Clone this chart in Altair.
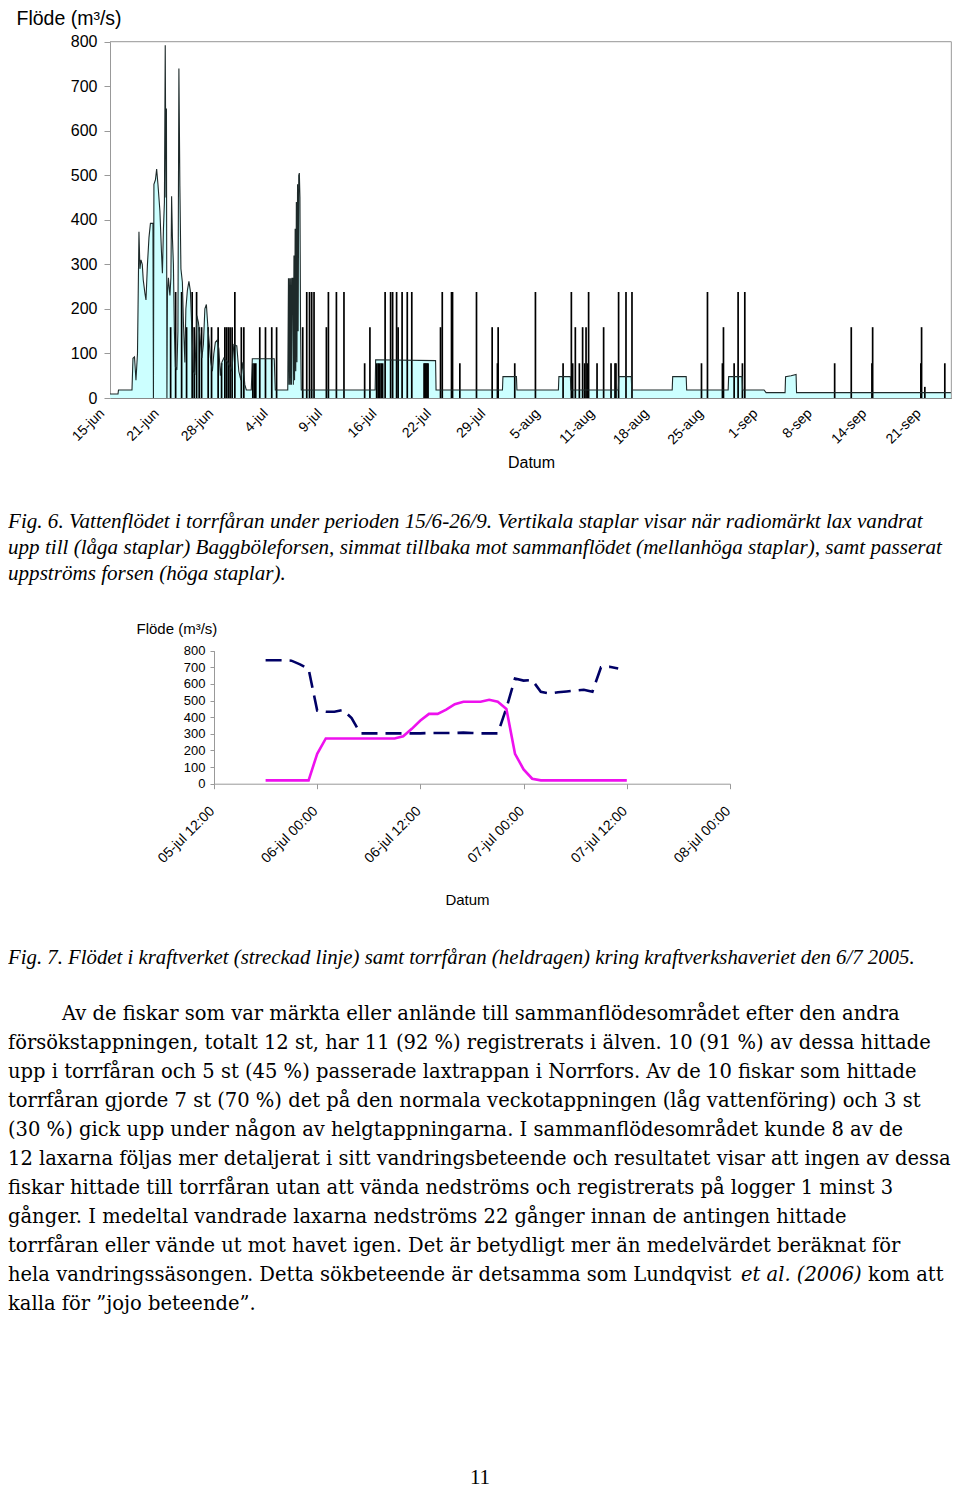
import altair as alt
import pandas as pd

# ---------------- Fig. 6 : flow in the dry channel, 15/6 - 26/9 ----------------
x_labels = ['15-jun', '21-jun', '28-jun', '4-jul', '9-jul', '16-jul', '22-jul', '29-jul',
            '5-aug', '11-aug', '18-aug', '25-aug', '1-sep', '8-sep', '14-sep', '21-sep']
x_max = 15.46

# position along the (category) time axis, in label steps, and flow in m3/s
flow_pos = [0.000, 0.147, 0.156, 0.404, 0.422, 0.450, 0.477, 0.505, 0.532, 0.550, 0.569, 0.593,
            0.611, 0.642, 0.661, 0.688, 0.716, 0.743, 0.789, 0.798, 0.807, 0.835, 0.857, 0.881,
            0.917, 0.945, 0.963, 0.982, 1.000, 1.015, 1.028, 1.037, 1.046, 1.055, 1.073, 1.101,
            1.119, 1.132, 1.147, 1.165, 1.183, 1.202, 1.229, 1.248, 1.266, 1.284, 1.303, 1.330,
            1.349, 1.376, 1.394, 1.422, 1.450, 1.477, 1.505, 1.532, 1.560, 1.596, 1.624, 1.651,
            1.688, 1.716, 1.743, 1.771, 1.798, 1.826, 1.853, 1.881, 1.908, 1.936, 1.972, 2.000,
            2.028, 2.055, 2.092, 2.165, 2.239, 2.275, 2.330, 2.367, 2.404, 2.440, 2.477, 2.505,
            2.596, 2.615, 3.018, 3.037, 3.266, 3.279, 3.290, 3.301, 3.312, 3.323, 3.334, 3.345,
            3.358, 3.369, 3.380, 3.391, 3.402, 3.413, 3.424, 3.435, 3.446, 3.457, 3.468, 3.479,
            3.490, 3.501, 3.514, 4.872, 4.881, 5.982, 5.991, 7.211, 7.220, 7.468, 7.477, 8.239,
            8.248, 8.459, 8.468, 9.339, 9.349, 9.578, 9.587, 10.330, 10.339, 10.587, 10.596,
            11.358, 11.367, 11.615, 11.624, 12.018, 12.055, 12.404, 12.413, 12.514, 12.606,
            12.615, 15.459]
flow_val = [9, 9, 18, 18, 89, 92, 40, 100, 373, 290, 310, 300,
            265, 235, 220, 300, 360, 392, 392, 0, 480, 490, 514, 480,
            420, 330, 280, 380, 440, 792, 450, 650, 0, 230, 270, 230,
            270, 453, 360, 300, 150, 70, 63, 150, 740, 475, 290, 260,
            170, 80, 200, 242, 262, 240, 150, 60, 55, 185, 170, 140,
            90, 120, 200, 210, 160, 120, 80, 60, 100, 125, 130, 110,
            50, 80, 90, 80, 60, 120, 117, 60, 40, 80, 30, 18,
            18, 88, 88, 18, 18, 269, 30, 269, 30, 269, 30, 269,
            269, 30, 320, 40, 380, 60, 440, 80, 480, 150, 500, 505,
            450, 160, 18, 18, 86, 84, 18, 18, 48, 48, 18, 18,
            48, 48, 18, 18, 48, 48, 18, 18, 48, 48, 18,
            18, 48, 48, 18, 18, 12, 12, 48, 50, 53,
            12, 12]

# vertical bars: radio-tagged salmon events (low / medium / high bars)
bar_pos = [1.114, 1.206, 1.316, 1.407, 1.510, 1.547, 1.591, 1.639, 1.683, 1.804, 1.866, 1.987,
           2.050, 2.110, 2.141, 2.174, 2.207, 2.244, 2.294, 2.413, 2.459, 2.624, 2.651, 2.679,
           2.752, 2.857, 2.972, 3.061, 3.541, 3.615, 3.666, 3.706, 3.749, 3.976, 4.013, 4.160,
           4.299, 4.679, 4.776, 4.899, 4.927, 4.954, 4.982, 5.009, 5.055, 5.156, 5.193, 5.266,
           5.294, 5.367, 5.462, 5.545, 5.771, 5.789, 5.807, 5.826, 5.844, 6.073, 6.105, 6.275,
           6.294, 6.428, 6.734, 7.022, 7.119, 7.132, 7.437, 7.817, 8.325, 8.477, 8.501, 8.550,
           8.624, 8.684, 8.721, 8.747, 8.771, 8.794, 8.949, 9.070, 9.206, 9.279, 9.297, 9.345,
           9.481, 9.591, 10.868, 10.978, 11.253, 11.272, 11.468, 11.541, 11.620, 11.664, 13.315,
           13.620, 14.000, 14.013, 14.899, 14.912, 14.972, 15.339]
bar_h = [159, 238, 238, 159, 238, 159, 238, 159, 159, 159, 159, 159,
         78, 159, 159, 159, 159, 159, 238, 159, 159, 78, 78, 78,
         159, 159, 159, 159, 159, 238, 238, 238, 238, 159, 238, 238,
         238, 78, 159, 78, 78, 78, 78, 78, 238, 238, 238, 238,
         159, 238, 238, 238, 78, 78, 78, 78, 78, 159, 238, 238,
         238, 78, 238, 159, 78, 159, 78, 238, 78, 238, 78, 159,
         78, 159, 78, 159, 78, 238, 78, 159, 78, 78, 78, 238,
         238, 238, 78, 238, 78, 159, 78, 238, 78, 238, 78,
         159, 78, 159, 78, 159, 25, 78]

# ---------------- Fig. 7 : flow around the power station failure 6/7 2005 ----------------
hour_labels = ['05-jul 12:00', '06-jul 00:00', '06-jul 12:00', '07-jul 00:00', '07-jul 12:00', '08-jul 00:00']
hour_ticks = [0, 12, 24, 36, 48, 60]
kraft_hours = [6, 7, 8, 9, 10, 11, 12, 13, 14, 15, 16, 17, 18, 19, 20, 21, 22, 23, 24, 25, 26,
               27, 28, 29, 30, 31, 32, 33, 34, 35, 36, 37, 38, 39, 40, 41, 42, 43, 44, 45, 46, 47]
kraft_flow = [743, 743, 743, 740, 718, 690, 440, 433, 433, 443, 395, 303, 303, 303, 303, 303, 303,
              303, 303, 305, 305, 305, 305, 307, 305, 303, 303, 303, 455, 633, 620, 623, 553, 543,
              550, 555, 560, 565, 553, 700, 703, 693]
torr_hours = [6, 7, 8, 9, 10, 11, 12, 13, 14, 15, 16, 17, 18, 19, 20, 21, 22, 23, 24, 25, 26, 27,
              28, 29, 30, 31, 32, 33, 34, 35, 36, 37, 38, 39, 40, 41, 42, 43, 44, 45, 46, 47, 48]
torr_flow = [20, 20, 20, 20, 20, 20, 180, 272, 272, 272, 272, 272, 272, 272, 272, 272, 285, 330,
             380, 420, 420, 445, 478, 493, 493, 493, 505, 493, 450, 180, 86, 30, 20, 20, 20, 20,
             20, 20, 20, 20, 20, 20, 20]

y_ticks = [0, 100, 200, 300, 400, 500, 600, 700, 800]

# ---------------- page text ----------------
caption6 = ['Fig. 6. Vattenflödet i torrfåran under perioden 15/6-26/9. Vertikala staplar visar när radiomärkt lax  vandrat',
            'upp till (låga  staplar) Baggböleforsen, simmat tillbaka mot sammanflödet (mellanhöga staplar), samt passerat',
            'uppströms forsen (höga staplar).']
caption7 = ['Fig. 7. Flödet i kraftverket (streckad linje) samt torrfåran (heldragen) kring kraftverkshaveriet den 6/7 2005.']
para_first = ['Av de fiskar som var märkta eller anlände till sammanflödesområdet efter den andra']
para_rest = ['försökstappningen, totalt 12 st, har 11 (92 %) registrerats i älven. 10 (91 %) av dessa hittade',
             'upp i torrfåran och 5 st (45 %) passerade laxtrappan i Norrfors. Av de 10 fiskar som hittade',
             'torrfåran gjorde 7 st (70 %) det på den normala veckotappningen (låg vattenföring) och 3 st',
             '(30 %) gick upp under någon av helgtappningarna. I sammanflödesområdet kunde 8 av de',
             '12 laxarna följas mer detaljerat i sitt vandringsbeteende och resultatet visar att ingen av dessa',
             'fiskar hittade till torrfåran utan att vända nedströms och registrerats på logger 1 minst 3',
             'gånger. I medeltal vandrade laxarna nedströms 22 gånger innan de antingen hittade',
             'torrfåran eller vände ut mot havet igen. Det är betydligt mer än medelvärdet beräknat för',
             'hela vandringssäsongen. Detta sökbeteende är detsamma som Lundqvist']
para_ital = ['et al. (2006)']
para_tail = ['kom att']
para_last = ['kalla för ”jojo beteende”.']
page_no = ['11']

W, H = 944, 1482
SANS = 'Liberation Sans'
SERIF = 'Liberation Serif'
BODY = 'DejaVu Serif'


def label_expr(labels, step):
    arr = '[' + ','.join("'" + s + "'" for s in labels) + ']'
    return arr + '[round(datum.value / ' + str(step) + ')]'


# ---------- Fig. 6 chart ----------
top_x = alt.Scale(domain=[0, x_max], range=[102, 943.4], nice=False, zero=False)
top_y = alt.Scale(domain=[0, 800], range=[390, 33.7], nice=False)
top_x_axis = alt.Axis(orient='bottom', offset=390 - H, values=list(range(len(x_labels))),
                      labelExpr=label_expr(x_labels, 1), labelAngle=-45, labelAlign='right',
                      labelBaseline='middle', labelPadding=13, labelOffset=-8, labelFontSize=14,
                      ticks=False, domainColor='#888', title='Datum', titleFontSize=16,
                      titleFontWeight='normal', titleX=523, titleY=69, titleBaseline='alphabetic',
                      titleAlign='center')
top_y_axis = alt.Axis(orient='left', offset=-102, values=y_ticks, tickSize=6, tickColor='#999',
                      domainColor='#999', labelFontSize=16, labelPadding=7,
                      title='Flöde (m³/s)', titleAngle=0, titleAlign='left', titleBaseline='alphabetic',
                      titleX=-94, titleY=16, titleFontSize=19.5, titleFontWeight='normal')

flow_df = pd.DataFrame({'pos': flow_pos, 'flow': flow_val})
bar_df = pd.DataFrame({'pos': bar_pos, 'h': bar_h})
one = pd.DataFrame({'k': [0]})

area = alt.Chart(flow_df).mark_area(color='#ccffff', opacity=1).encode(
    x=alt.X('pos:Q', scale=top_x, axis=top_x_axis),
    y=alt.Y('flow:Q', scale=top_y, axis=top_y_axis))
flow_line = alt.Chart(flow_df).mark_line(color='#1e2a2a', strokeWidth=1.1).encode(
    x='pos:Q', y='flow:Q')
bars = alt.Chart(bar_df).mark_rule(color='black', strokeWidth=1.7).encode(
    x='pos:Q', y='h:Q', y2=alt.datum(0))
frame_top = alt.Chart(one).mark_rule(color='#aaa', strokeWidth=1.2).encode(
    x=alt.datum(0), x2=alt.datum(x_max), y=alt.datum(800))
frame_right = alt.Chart(one).mark_rule(color='#aaa', strokeWidth=1.2).encode(
    x=alt.datum(x_max), y=alt.datum(0), y2=alt.datum(800))
fig6 = alt.layer(area, bars, flow_line, frame_top, frame_right)

# ---------- Fig. 7 chart ----------
bot_x = alt.Scale(domain=[0, 60], range=[206, 722], nice=False, zero=False)
bot_y = alt.Scale(domain=[0, 800], range=[775.7, 642.7], nice=False)
bot_x_axis = alt.Axis(orient='bottom', offset=775.7 - H, values=hour_ticks,
                      labelExpr=label_expr(hour_labels, 12), labelAngle=-45, labelAlign='right',
                      labelBaseline='middle', labelPadding=20, labelOffset=-2, labelFontSize=14,
                      tickSize=5, tickColor='#999', domainColor='#999', title='Datum',
                      titleFontSize=15, titleFontWeight='normal', titleX=459, titleY=121,
                      titleBaseline='alphabetic', titleAlign='center')
bot_y_axis = alt.Axis(orient='left', offset=-206, values=y_ticks, tickSize=4, tickColor='#999',
                      domainColor='#999', labelFontSize=13, labelPadding=5,
                      title='Flöde (m³/s)', titleAngle=0, titleAlign='left', titleBaseline='alphabetic',
                      titleX=-78, titleY=625, titleFontSize=15, titleFontWeight='normal')

kraft_df = pd.DataFrame({'hour': kraft_hours, 'flow': kraft_flow})
torr_df = pd.DataFrame({'hour': torr_hours, 'flow': torr_flow})
kraft = alt.Chart(kraft_df).mark_line(color='#000066', strokeWidth=2.6, strokeDash=[16, 8]).encode(
    x=alt.X('hour:Q', scale=bot_x, axis=bot_x_axis),
    y=alt.Y('flow:Q', scale=bot_y, axis=bot_y_axis))
torr = alt.Chart(torr_df).mark_line(color='#ee11ee', strokeWidth=2.6).encode(
    x='hour:Q', y='flow:Q')
fig7 = alt.layer(kraft, torr)


# ---------- text blocks ----------
def text_block(lines, x, y, size, line_h, font=SERIF, italic=False, align='left'):
    kw = dict(text=lines, align=align, baseline='alphabetic', font=font, fontSize=size,
              lineHeight=line_h, color='black')
    if italic:
        kw['fontStyle'] = 'italic'
    return alt.Chart(one).mark_text(**kw).encode(x=alt.value(x), y=alt.value(y))


t_cap6 = text_block(caption6, 0, 520, 21.1, 26, italic=True)
t_cap7 = text_block(caption7, 0, 956, 20.8, 26, italic=True)
t_p1 = text_block(para_first, 54, 1012, 19.5, 29, font=BODY)
t_p2 = text_block(para_rest, 0, 1041, 19.5, 29, font=BODY)
t_p_it = text_block(para_ital, 733, 1273, 19.5, 29, font=BODY, italic=True)
t_p_tail = text_block(para_tail, 860, 1273, 19.5, 29, font=BODY)
t_p_last = text_block(para_last, 0, 1302, 19.5, 29, font=BODY)
t_pg = text_block(page_no, 472, 1476, 21, 26, align='center')

chart = alt.layer(fig6, fig7, t_cap6, t_cap7, t_p1, t_p2, t_p_it, t_p_tail, t_p_last, t_pg).resolve_scale(
    x='independent', y='independent'
).properties(
    width=W, height=H, padding=0, autosize=alt.AutoSizeParams(type='none'), background='white'
).configure_view(strokeOpacity=0).configure_axis(
    grid=False, labelFont=SANS, titleFont=SANS, labelColor='black', titleColor='black'
)

chart.save('out.html', embed_options={'renderer': 'svg', 'actions': False})
